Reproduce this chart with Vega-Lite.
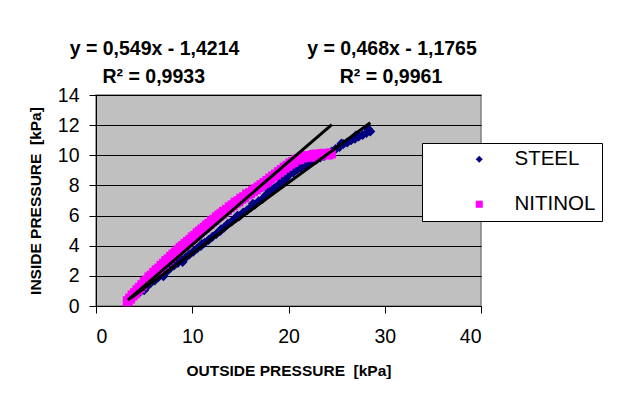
{
  "$schema": "https://vega.github.io/schema/vega-lite/v6.json",
  "width": 385,
  "height": 211,
  "autosize": {"type": "none"},
  "padding": {"left": 96, "top": 95, "right": 136, "bottom": 93},
  "background": "white",
  "config": {
    "font": "Liberation Sans",
    "view": {"fill": "#C0C0C0", "stroke": "#808080", "strokeWidth": 1.5},
    "axis": {
      "domainColor": "black",
      "tickColor": "black",
      "tickSize": 7,
      "labelColor": "black",
      "labelFont": "Liberation Sans",
      "labelFontSize": 19.5,
      "labelOverlap": false,
      "titleFont": "Liberation Sans",
      "titleFontSize": 15.5,
      "titleFontWeight": "bold",
      "titleColor": "black"
    }
  },
  "datasets": {
    "pts": [
      {"series": "STEEL", "x": 3.5, "y": 0.38}, {"series": "STEEL", "x": 3.8, "y": 0.55}, {"series": "STEEL", "x": 4.1, "y": 0.72},
      {"series": "STEEL", "x": 4.5, "y": 0.9}, {"series": "STEEL", "x": 4.9, "y": 1.12}, {"series": "STEEL", "x": 5.3, "y": 1.3},
      {"series": "STEEL", "x": 5.7, "y": 1.55}, {"series": "STEEL", "x": 6.1, "y": 1.7}, {"series": "STEEL", "x": 6.5, "y": 1.92},
      {"series": "STEEL", "x": 6.9, "y": 2.1}, {"series": "STEEL", "x": 7.3, "y": 2.25}, {"series": "STEEL", "x": 7.7, "y": 2.5},
      {"series": "STEEL", "x": 8.1, "y": 2.68}, {"series": "STEEL", "x": 8.5, "y": 2.85}, {"series": "STEEL", "x": 8.9, "y": 3.05},
      {"series": "STEEL", "x": 9.3, "y": 3.2}, {"series": "STEEL", "x": 9.7, "y": 3.42}, {"series": "STEEL", "x": 10.1, "y": 3.6},
      {"series": "STEEL", "x": 10.5, "y": 3.82}, {"series": "STEEL", "x": 10.9, "y": 3.98}, {"series": "STEEL", "x": 11.3, "y": 4.2},
      {"series": "STEEL", "x": 11.7, "y": 4.38}, {"series": "STEEL", "x": 12.1, "y": 4.6}, {"series": "STEEL", "x": 12.5, "y": 4.78},
      {"series": "STEEL", "x": 12.9, "y": 4.98}, {"series": "STEEL", "x": 13.3, "y": 5.2}, {"series": "STEEL", "x": 13.7, "y": 5.45},
      {"series": "STEEL", "x": 14.1, "y": 5.6}, {"series": "STEEL", "x": 14.5, "y": 5.82}, {"series": "STEEL", "x": 14.9, "y": 5.95},
      {"series": "STEEL", "x": 15.3, "y": 6.2}, {"series": "STEEL", "x": 15.7, "y": 6.35}, {"series": "STEEL", "x": 16.1, "y": 6.55},
      {"series": "STEEL", "x": 16.5, "y": 6.72}, {"series": "STEEL", "x": 16.9, "y": 6.95}, {"series": "STEEL", "x": 17.3, "y": 7.1},
      {"series": "STEEL", "x": 17.7, "y": 7.38}, {"series": "STEEL", "x": 18.1, "y": 7.55}, {"series": "STEEL", "x": 18.5, "y": 7.82},
      {"series": "STEEL", "x": 18.9, "y": 8.0}, {"series": "STEEL", "x": 19.3, "y": 8.3}, {"series": "STEEL", "x": 19.7, "y": 8.45},
      {"series": "STEEL", "x": 20.1, "y": 8.72}, {"series": "STEEL", "x": 20.5, "y": 8.85}, {"series": "STEEL", "x": 20.9, "y": 9.05},
      {"series": "STEEL", "x": 21.3, "y": 9.15}, {"series": "STEEL", "x": 21.7, "y": 9.35}, {"series": "STEEL", "x": 22.1, "y": 9.45},
      {"series": "STEEL", "x": 22.5, "y": 9.6}, {"series": "STEEL", "x": 22.9, "y": 9.72}, {"series": "STEEL", "x": 23.3, "y": 9.85},
      {"series": "STEEL", "x": 23.7, "y": 9.95}, {"series": "STEEL", "x": 24.1, "y": 10.12}, {"series": "STEEL", "x": 24.5, "y": 10.25},
      {"series": "STEEL", "x": 24.9, "y": 10.42}, {"series": "STEEL", "x": 25.3, "y": 10.55}, {"series": "STEEL", "x": 25.7, "y": 10.75},
      {"series": "STEEL", "x": 26.1, "y": 10.85}, {"series": "STEEL", "x": 26.5, "y": 11.0}, {"series": "STEEL", "x": 26.9, "y": 11.1},
      {"series": "STEEL", "x": 27.3, "y": 11.25}, {"series": "STEEL", "x": 27.7, "y": 11.35}, {"series": "STEEL", "x": 28.1, "y": 11.48},
      {"series": "STEEL", "x": 28.5, "y": 11.58},
      {"series": "STEEL", "x": 5.0, "y": 1.05}, {"series": "STEEL", "x": 7.0, "y": 1.98}, {"series": "STEEL", "x": 9.0, "y": 2.92},
      {"series": "STEEL", "x": 11.0, "y": 4.12}, {"series": "STEEL", "x": 13.0, "y": 5.1}, {"series": "STEEL", "x": 14.7, "y": 5.98},
      {"series": "STEEL", "x": 16.3, "y": 6.78}, {"series": "STEEL", "x": 18.0, "y": 7.65}, {"series": "STEEL", "x": 19.6, "y": 8.25},
      {"series": "STEEL", "x": 21.0, "y": 9.25}, {"series": "STEEL", "x": 22.7, "y": 9.82}, {"series": "STEEL", "x": 24.3, "y": 10.05},
      {"series": "STEEL", "x": 25.5, "y": 10.78}, {"series": "STEEL", "x": 27.0, "y": 11.32}, {"series": "STEEL", "x": 28.3, "y": 11.72},
      {"series": "NITINOL", "x": 3.3, "y": 0.32}, {"series": "NITINOL", "x": 3.55, "y": 0.5}, {"series": "NITINOL", "x": 3.8, "y": 0.7},
      {"series": "NITINOL", "x": 4.05, "y": 0.85}, {"series": "NITINOL", "x": 4.3, "y": 1.05}, {"series": "NITINOL", "x": 4.55, "y": 1.2},
      {"series": "NITINOL", "x": 4.8, "y": 1.38}, {"series": "NITINOL", "x": 5.05, "y": 1.58}, {"series": "NITINOL", "x": 5.3, "y": 1.7},
      {"series": "NITINOL", "x": 5.55, "y": 1.9}, {"series": "NITINOL", "x": 5.8, "y": 2.02}, {"series": "NITINOL", "x": 6.05, "y": 2.2},
      {"series": "NITINOL", "x": 6.3, "y": 2.36}, {"series": "NITINOL", "x": 6.55, "y": 2.48}, {"series": "NITINOL", "x": 6.8, "y": 2.66},
      {"series": "NITINOL", "x": 7.05, "y": 2.8}, {"series": "NITINOL", "x": 7.3, "y": 2.98}, {"series": "NITINOL", "x": 7.55, "y": 3.1},
      {"series": "NITINOL", "x": 7.8, "y": 3.26}, {"series": "NITINOL", "x": 8.05, "y": 3.42}, {"series": "NITINOL", "x": 8.3, "y": 3.55},
      {"series": "NITINOL", "x": 8.55, "y": 3.7}, {"series": "NITINOL", "x": 8.8, "y": 3.86}, {"series": "NITINOL", "x": 9.05, "y": 3.98},
      {"series": "NITINOL", "x": 9.3, "y": 4.12}, {"series": "NITINOL", "x": 9.55, "y": 4.25}, {"series": "NITINOL", "x": 9.8, "y": 4.38},
      {"series": "NITINOL", "x": 10.05, "y": 4.55}, {"series": "NITINOL", "x": 10.3, "y": 4.65}, {"series": "NITINOL", "x": 10.55, "y": 4.82},
      {"series": "NITINOL", "x": 10.8, "y": 4.95}, {"series": "NITINOL", "x": 11.05, "y": 5.08}, {"series": "NITINOL", "x": 11.3, "y": 5.2},
      {"series": "NITINOL", "x": 11.55, "y": 5.35}, {"series": "NITINOL", "x": 11.8, "y": 5.46}, {"series": "NITINOL", "x": 12.05, "y": 5.62},
      {"series": "NITINOL", "x": 12.3, "y": 5.72}, {"series": "NITINOL", "x": 12.55, "y": 5.88}, {"series": "NITINOL", "x": 12.8, "y": 6.0},
      {"series": "NITINOL", "x": 13.05, "y": 6.12}, {"series": "NITINOL", "x": 13.3, "y": 6.25}, {"series": "NITINOL", "x": 13.6, "y": 6.38},
      {"series": "NITINOL", "x": 13.9, "y": 6.55}, {"series": "NITINOL", "x": 14.2, "y": 6.68}, {"series": "NITINOL", "x": 14.5, "y": 6.85},
      {"series": "NITINOL", "x": 14.8, "y": 6.95}, {"series": "NITINOL", "x": 15.1, "y": 7.12}, {"series": "NITINOL", "x": 15.4, "y": 7.22},
      {"series": "NITINOL", "x": 15.7, "y": 7.4}, {"series": "NITINOL", "x": 16.0, "y": 7.48}, {"series": "NITINOL", "x": 16.3, "y": 7.62},
      {"series": "NITINOL", "x": 16.6, "y": 7.75}, {"series": "NITINOL", "x": 16.9, "y": 7.88}, {"series": "NITINOL", "x": 17.2, "y": 8.02},
      {"series": "NITINOL", "x": 17.5, "y": 8.15}, {"series": "NITINOL", "x": 17.8, "y": 8.3}, {"series": "NITINOL", "x": 18.1, "y": 8.45},
      {"series": "NITINOL", "x": 18.4, "y": 8.6}, {"series": "NITINOL", "x": 18.7, "y": 8.72}, {"series": "NITINOL", "x": 19.0, "y": 8.88},
      {"series": "NITINOL", "x": 19.3, "y": 9.02}, {"series": "NITINOL", "x": 19.6, "y": 9.18}, {"series": "NITINOL", "x": 19.9, "y": 9.3},
      {"series": "NITINOL", "x": 20.2, "y": 9.45}, {"series": "NITINOL", "x": 20.5, "y": 9.55}, {"series": "NITINOL", "x": 20.8, "y": 9.7},
      {"series": "NITINOL", "x": 21.1, "y": 9.75}, {"series": "NITINOL", "x": 21.4, "y": 9.85}, {"series": "NITINOL", "x": 21.7, "y": 9.88},
      {"series": "NITINOL", "x": 22.0, "y": 9.95}, {"series": "NITINOL", "x": 22.3, "y": 9.9}, {"series": "NITINOL", "x": 22.6, "y": 10.02},
      {"series": "NITINOL", "x": 22.9, "y": 10.05}, {"series": "NITINOL", "x": 23.2, "y": 9.98}, {"series": "NITINOL", "x": 23.5, "y": 10.08},
      {"series": "NITINOL", "x": 23.8, "y": 10.1}, {"series": "NITINOL", "x": 24.1, "y": 10.05}, {"series": "NITINOL", "x": 24.4, "y": 10.12}
    ],
    "trend": [
      {"series": "NITINOL", "x": 3.3, "y": 0.39},
      {"series": "NITINOL", "x": 24.5, "y": 12.03},
      {"series": "STEEL", "x": 3.6, "y": 0.51},
      {"series": "STEEL", "x": 28.5, "y": 12.16}
    ],
    "labels": [
      {"x": 6.08, "y": 16.66, "text": "y = 0,549x - 1,4214"},
      {"x": 6.0, "y": 14.8, "text": "R² = 0,9933"},
      {"x": 30.75, "y": 16.66, "text": "y = 0,468x - 1,1765"},
      {"x": 30.65, "y": 14.8, "text": "R² = 0,9961"}
    ]
  },
  "encoding": {
    "x": {
      "field": "x", "type": "quantitative",
      "scale": {"domain": [0, 40], "nice": false},
      "axis": {"values": [0, 10, 20, 30, 40], "grid": false, "title": "OUTSIDE PRESSURE \u00a0[kPa]", "labelPadding": 14, "titlePadding": 18, "labelOverlap": false}
    },
    "y": {
      "field": "y", "type": "quantitative",
      "scale": {"domain": [0, 14], "nice": false},
      "axis": {"values": [0, 2, 4, 6, 8, 10, 12, 14], "tickCount": 8, "grid": true, "gridColor": "black", "gridWidth": 1, "title": "INSIDE PRESSURE \u00a0[kPa]", "labelPadding": 10, "titlePadding": 14, "labelOverlap": false, "labelBound": false}
    }
  },
  "layer": [
    {
      "data": {"name": "pts"},
      "mark": {"type": "point", "filled": true, "opacity": 1, "strokeWidth": 0, "size": 100},
      "encoding": {
        "color": {
          "field": "series", "type": "nominal",
          "scale": {"domain": ["STEEL", "NITINOL"], "range": ["#000080", "#FF00FF"]},
          "legend": {
            "title": null, "orient": "none", "legendX": 326, "legendY": 48,
            "fillColor": "white", "strokeColor": "black", "padding": 6,
            "symbolOffset": 41, "labelOffset": 25, "rowPadding": 24,
            "labelFontSize": 20.5, "labelColor": "black", "symbolSize": 50,
            "labelExpr": "datum.label + '  '"
          }
        },
        "shape": {
          "field": "series", "type": "nominal",
          "scale": {"domain": ["STEEL", "NITINOL"], "range": ["diamond", "square"]},
          "legend": null
        }
      }
    },
    {
      "data": {"name": "trend"},
      "mark": {"type": "line", "color": "black", "strokeWidth": 3},
      "encoding": {
        "detail": {"field": "series"}
      }
    },
    {
      "data": {"name": "labels"},
      "mark": {"type": "text", "fontWeight": "bold", "fontSize": 19.5, "align": "center", "baseline": "alphabetic", "color": "black"},
      "encoding": {
        "text": {"field": "text"}
      }
    }
  ]
}
